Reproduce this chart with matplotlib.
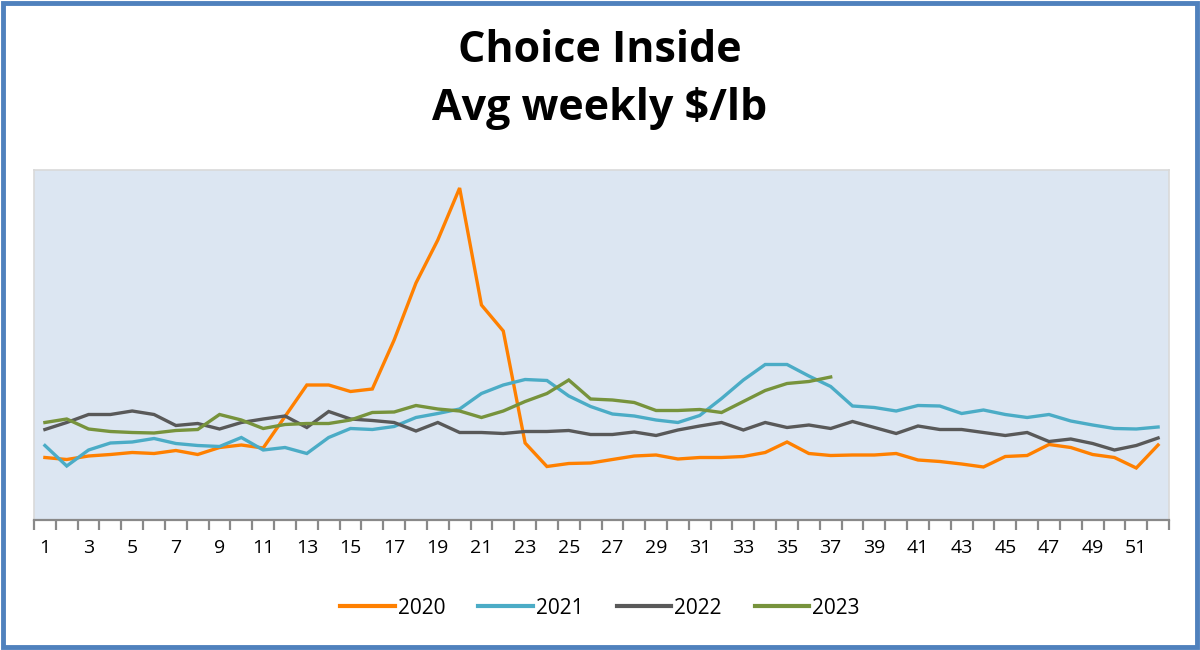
import matplotlib
matplotlib.use("Agg")
import matplotlib.pyplot as plt
from matplotlib.patches import Rectangle
import numpy as np

weeks = list(range(1, 53))
tick_labels = [str(w) for w in weeks if w % 2 == 1]

# Values in $/lb (axis unlabelled in the original)
y2020 = [6.25, 6.21, 6.28, 6.31, 6.35, 6.33, 6.39, 6.31, 6.45, 6.50, 6.44, 7.07,
         7.70, 7.70, 7.57, 7.62, 8.60, 9.74, 10.60, 11.64, 9.30, 8.78, 6.54, 6.07,
         6.13, 6.14, 6.21, 6.28, 6.30, 6.22, 6.25, 6.25, 6.27, 6.35, 6.56, 6.33,
         6.29, 6.30, 6.30, 6.33, 6.20, 6.17, 6.12, 6.06, 6.27, 6.29, 6.51, 6.45,
         6.31, 6.25, 6.04, 6.50]
y2021 = [6.49, 6.08, 6.40, 6.54, 6.56, 6.63, 6.53, 6.49, 6.47, 6.65, 6.40, 6.45,
         6.33, 6.65, 6.83, 6.81, 6.87, 7.05, 7.13, 7.22, 7.53, 7.70, 7.81, 7.79,
         7.48, 7.27, 7.12, 7.08, 7.00, 6.95, 7.09, 7.43, 7.80, 8.11, 8.11, 7.88,
         7.67, 7.28, 7.25, 7.18, 7.29, 7.28, 7.13, 7.20, 7.11, 7.05, 7.11, 6.98,
         6.90, 6.83, 6.82, 6.86]
y2022 = [6.81, 6.95, 7.11, 7.11, 7.18, 7.11, 6.89, 6.93, 6.82, 6.95, 7.02, 7.08,
         6.85, 7.17, 7.02, 6.99, 6.95, 6.78, 6.95, 6.75, 6.75, 6.73, 6.77, 6.77,
         6.79, 6.71, 6.71, 6.76, 6.69, 6.80, 6.88, 6.95, 6.80, 6.95, 6.85, 6.90,
         6.83, 6.97, 6.85, 6.73, 6.88, 6.81, 6.81, 6.75, 6.69, 6.75, 6.57, 6.62,
         6.53, 6.40, 6.49, 6.64]
y2023 = [6.95, 7.02, 6.82, 6.77, 6.75, 6.74, 6.79, 6.81, 7.11, 7.00, 6.83, 6.91,
         6.93, 6.93, 7.00, 7.15, 7.16, 7.29, 7.22, 7.18, 7.05, 7.18, 7.37, 7.53,
         7.80, 7.42, 7.40, 7.35, 7.19, 7.19, 7.21, 7.15, 7.37, 7.59, 7.73, 7.77,
         7.86]

series = [("2020", y2020, "#FF8000"),
          ("2021", y2021, "#4BACC6"),
          ("2022", y2022, "#595959"),
          ("2023", y2023, "#77933C")]

plt.rcParams['font.family'] = ['Open Sans', 'DejaVu Sans']

fig = plt.figure(figsize=(12, 6.5), dpi=100)
fig.patch.set_facecolor("white")
ax = fig.add_axes([34/1200, 130/650, (1169-34)/1200, (520-170)/650])
ax.set_facecolor("#DCE6F2")

for name, vals, col in series:
    ax.plot(weeks[:len(vals)], vals, color=col, lw=2.4, label=name,
            solid_joinstyle="miter")

ax.set_xlim(0.5, 52.5)
ax.set_ylim(5, 12)
ax.set_yticks([])
ax.set_xticks([w for w in weeks if w % 2 == 1])
ax.set_xticklabels(tick_labels, fontsize=14)
ax.tick_params(axis="x", which="major", length=0, pad=14)
ax.set_xticks(np.arange(0.5, 53.0, 1.0), minor=True)
ax.tick_params(axis="x", which="minor", length=7, width=1.6, color="#898989",
               direction="out")
for s in ["top", "right", "left"]:
    ax.spines[s].set_color("#D9D9D9")
    ax.spines[s].set_linewidth(1.2)
ax.spines["bottom"].set_color("#898989")
ax.spines["bottom"].set_linewidth(1.6)

fig.text(0.5, 50/650 * -1 + 1, "Choice Inside", ha="center", va="center",
         fontsize=31, fontweight="bold")
fig.text(0.5, 1 - 108/650, "Avg weekly $/lb", ha="center", va="center",
         fontsize=31, fontweight="bold")

leg = fig.legend(loc="center", bbox_to_anchor=(0.5, 1 - 608/650), ncol=4,
                 frameon=False, fontsize=15, handlelength=2.6,
                 handletextpad=0.15, columnspacing=1.6)
for line in leg.get_lines():
    line.set_linewidth(3)

fig.add_artist(Rectangle((3/1200, 3/650), 1 - 6/1200, 1 - 6/650,
                         transform=fig.transFigure, fill=False,
                         edgecolor="#4F81BD", linewidth=3.5))

fig.savefig("out.png", dpi=100)
